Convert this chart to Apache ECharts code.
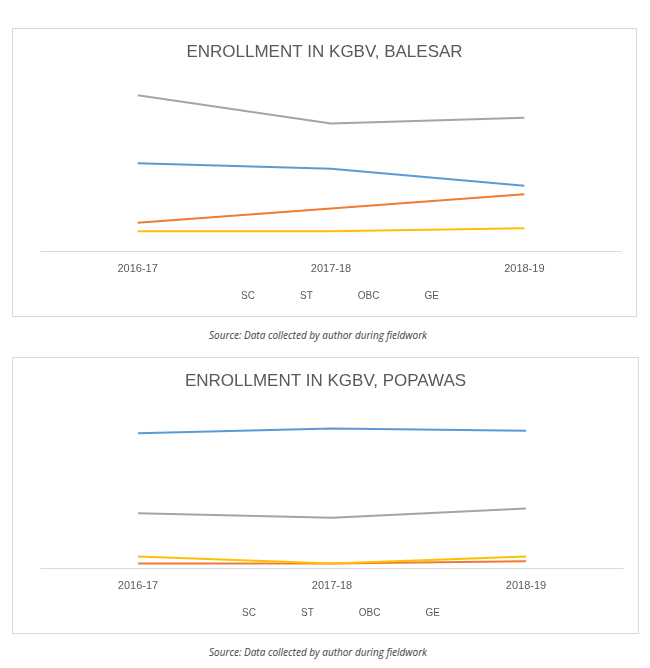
<!DOCTYPE html>
<html>
<head>
<meta charset="utf-8" />
<title>KGBV enrollment</title>
<script src="https://cdn.jsdelivr.net/npm/echarts@6/dist/echarts.min.js"></script>
<style>
	body { margin: 0; background: #fff; font-family: "Open Sans", sans-serif; }
	.box { position: absolute; border: 1px solid #d9d9d9; }
	.cap { position: absolute; left: 0; width: 636px; text-align: center; font-style: italic; font-size: 10px; color: #404040; }
</style>
</head>
<body>
<div id="main1" class="box" style="left:12px;top:28px;width:623px;height:287px;"></div>
<div class="cap" style="top:328px;">Source: Data collected by author during fieldwork</div>
<div id="main2" class="box" style="left:12px;top:357px;width:625px;height:275px;"></div>
<div class="cap" style="top:645px;">Source: Data collected by author during fieldwork</div>
<script>
var years = ['2016-17', '2017-18', '2018-19'];
var names = ['SC', 'ST', 'OBC', 'GE'];
var colors = ['#5b9bd5', '#ed7d31', '#a5a5a5', '#ffc000'];
// Balesar
var balSC = [31, 29, 23];
var balST = [10, 15, 20];
var balOBC = [55, 45, 47];
var balGE = [7, 7, 8];
// Popawas
var popSC = [59, 61, 60];
var popST = [2, 2, 3];
var popOBC = [24, 22, 26];
var popGE = [5, 2, 5];

function makeOption(title, data, max, gridTop) {
	return {
		animation: false,
		color: colors,
		title: { text: title, left: 'center', top: 10, textStyle: { fontSize: 17, fontWeight: 'normal', color: '#595959' } },
		legend: {
			bottom: 10, data: names, icon: 'path://M0,4 L10,4 L10,6 L0,6 Z M14,4 L24,4 L24,6 L14,6 Z',
			itemWidth: 26, itemHeight: 4, itemGap: 14,
			textStyle: { fontSize: 10, color: '#595959' }
		},
		grid: { left: 28, right: 15, top: gridTop, bottom: 65 },
		xAxis: {
			type: 'category', data: years,
			axisLine: { lineStyle: { color: '#d9d9d9' } }, axisTick: { show: false },
			axisLabel: { color: '#595959', fontSize: 11, margin: 12 }
		},
		yAxis: { type: 'value', min: 0, max: max, show: false, splitLine: { show: false } },
		series: data.map(function(d, i) {
			return {
				name: names[i], type: 'line', data: d,
				symbol: 'circle', symbolSize: 1, showSymbol: true,
				itemStyle: { opacity: 0 },
				lineStyle: { width: 2 },
				label: {
					show: true, position: 'top', distance: 0, offset: [0, 8],
					color: colors[i], fontSize: 11, fontWeight: 'bold',
					backgroundColor: '#fff', padding: [1, 2]
				},
				labelLayout: { hideOverlap: false },
				z: 2 + i
			};
		})
	};
}

var myCharts1 = echarts.init(document.getElementById('main1'));
var myCharts2 = echarts.init(document.getElementById('main2'));
myCharts1.setOption(makeOption('ENROLLMENT IN KGBV, BALESAR', [balSC, balST, balOBC, balGE], 60, 52));
myCharts2.setOption(makeOption('ENROLLMENT IN KGBV, POPAWAS', [popSC, popST, popOBC, popGE], 70, 50));
</script>
</body>
</html>
